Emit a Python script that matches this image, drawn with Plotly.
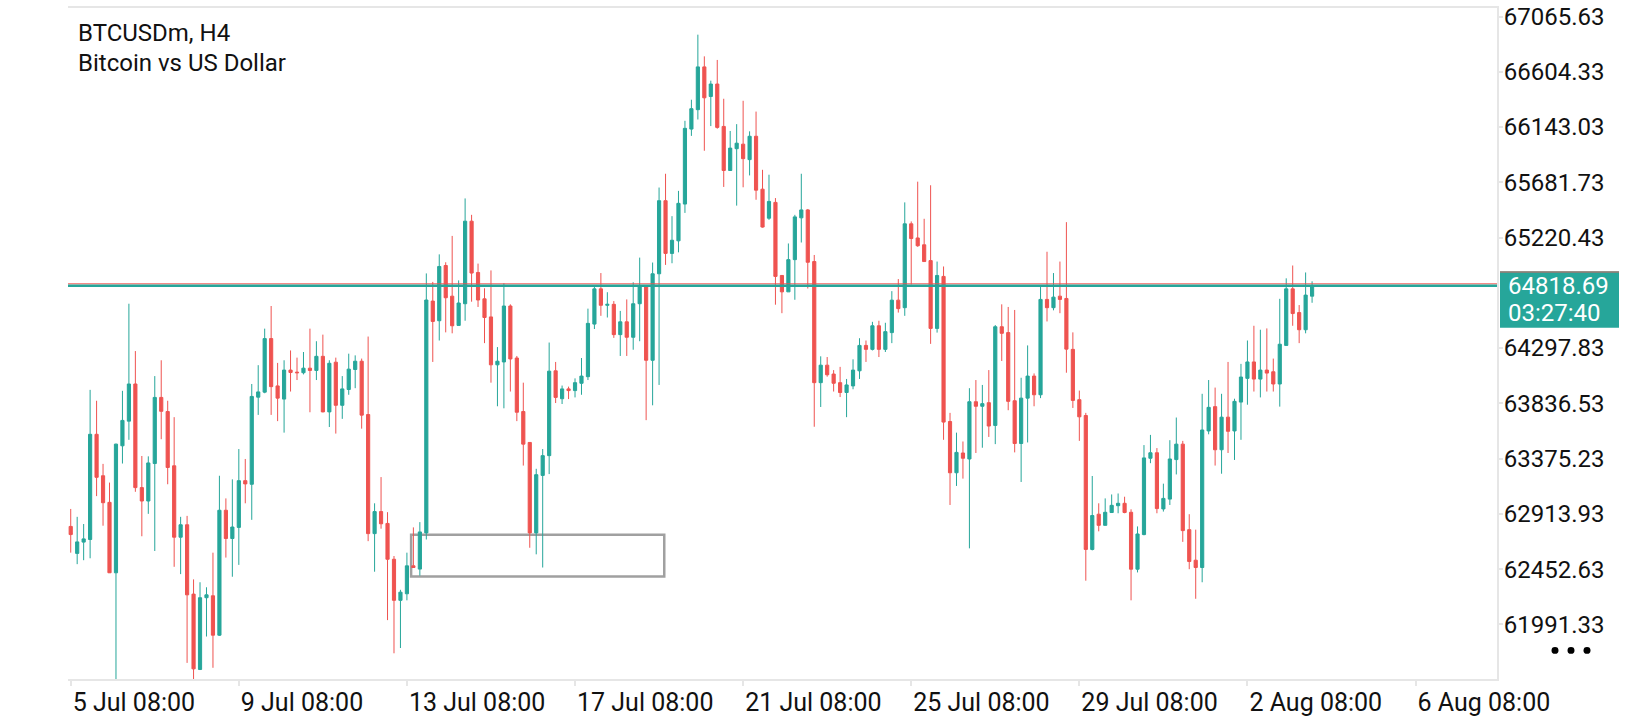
import plotly.graph_objects as go

# BTCUSDm H4 candles (oldest first)
opens = [
    62809, 62584, 62678, 62700, 63578, 63232, 63010, 62422, 63482, 63688,
    63998, 63133, 63021, 63334, 63886, 63768, 63315, 62719, 62823, 62244,
    61615, 62214, 62230, 61901, 62944, 62708, 62801, 63191, 63161, 63888,
    63930, 64377, 63982, 63872, 64114, 64097, 64092, 64130, 64111, 64229,
    63765, 64180, 63820, 63952, 64119, 64188, 63743, 62749, 62933, 62834,
    62535, 62192, 62247, 62480, 62453, 62755, 64690, 64526, 64987, 64731,
    64487, 64668, 65357, 64929, 64709, 64558, 64158, 64182, 64649, 64215,
    63768, 63510, 62755, 63235, 63400, 64108, 63875, 63957, 63943, 64004,
    64059, 64498, 64792, 64655, 64663, 64410, 64517, 64388, 64668, 64814,
    64196, 64918, 65528, 65088, 65193, 65500, 66126, 66288, 66645, 66398,
    66502, 66148, 65780, 65962, 66000, 65871, 66066, 65624, 65382, 65514,
    64904, 64767, 65036, 65385, 65451, 65020, 64009, 64155, 64081, 64009,
    63927, 63982, 64108, 64320, 64287, 64484, 64287, 64427, 64698, 64635,
    65335, 65217, 65160, 65028, 64462, 64896, 63685, 63257, 63422, 63372,
    63850, 63812, 63842, 63652, 64476, 64427, 63858, 63501, 63880, 64064,
    63908, 64704, 64635, 64731, 64712, 64287, 63867, 63735, 62617, 62911,
    62818, 62925, 62982, 63002, 62927, 62452, 62741, 63378, 63424, 62955,
    63037, 63367, 63496, 62782, 62527, 62466, 63606, 63809, 63449, 63721,
    63606, 63847, 64045, 64182, 64039, 64114, 64100, 63998, 64320, 64792,
    64594, 64451, 64731,
]
highs = [
    62955, 62889, 62829, 63949, 63858, 63331, 63175, 63500, 63941, 64668,
    64273, 63397, 63394, 64064, 64196, 63858, 63721, 62889, 62897, 62367,
    62343, 62301, 62590, 63232, 63043, 63202, 63455, 63372, 63998, 64155,
    64460, 64649, 64174, 64196, 64278, 64218, 64265, 64460, 64355, 64410,
    64196, 64218, 64064, 64251, 64237, 64210, 64394, 63002, 63221, 62928,
    62562, 62280, 62590, 62801, 62845, 64921, 64850, 65080, 65014, 65234,
    64863, 65547, 65410, 65003, 64797, 64946, 64306, 64839, 64663, 64232,
    64009, 63510, 63290, 63455, 64344, 64182, 63985, 63976, 64045, 64215,
    64627, 64808, 64924, 64764, 64690, 64608, 64704, 64847, 65053, 64814,
    65012, 65638, 65753, 65399, 65610, 66195, 66371, 66914, 66733, 66530,
    66703, 66379, 66110, 66167, 66362, 66107, 66272, 65786, 65745, 65550,
    64904, 65171, 65410, 65753, 65459, 65075, 64229, 64223, 64114, 64141,
    64040, 64204, 64380, 64361, 64517, 64526, 64509, 64773, 64874, 65514,
    65355, 65687, 65377, 65657, 65020, 64979, 63757, 63592, 63518, 63963,
    64031, 63990, 64114, 64490, 64663, 64641, 64616, 64050, 64320, 64086,
    64814, 65102, 64924, 65020, 65349, 64429, 63943, 63757, 63230, 63002,
    63043, 63076, 63084, 63057, 62952, 62809, 63488, 63573, 63463, 63166,
    63529, 63718, 63523, 62911, 62782, 63916, 64031, 63968, 63916, 64182,
    63875, 64166, 64361, 64484, 64451, 64462, 64210, 64709, 64880, 64987,
    64657, 64929, 64855,
]
lows = [
    62590, 62494, 62527, 62543, 63062, 62815, 62420, 61520, 63334, 63532,
    63098, 62727, 62914, 62604, 63537, 63161, 62472, 62411, 61670, 61530,
    61610, 61890, 61629, 61895, 62549, 62389, 62488, 63002, 62864, 63740,
    63921, 63740, 63688, 63592, 63935, 64031, 64078, 63762, 64031, 63762,
    63639, 63584, 63707, 63908, 63963, 63625, 62686, 62431, 62790, 62027,
    61750, 61794, 62192, 62466, 62398, 62700, 64182, 64361, 64429, 64421,
    64487, 64526, 64685, 64641, 64339, 64009, 63812, 63795, 63935, 63688,
    63317, 62631, 62576, 62466, 63246, 63839, 63831, 63872, 63886, 63908,
    64031, 64457, 64567, 64553, 64383, 64232, 64232, 64284, 64355, 63696,
    63820, 63990, 64992, 65006, 65097, 65426, 66069, 66206, 65945, 66151,
    66129, 65643, 65780, 65487, 65640, 65739, 65536, 65303, 65368, 64660,
    64589, 64767, 64701, 65179, 64795, 63641, 63806, 64059, 63935, 63889,
    63721, 63954, 64040, 64182, 64278, 64223, 64265, 64339, 64594, 64567,
    64828, 65143, 65020, 64333, 64427, 63532, 62988, 63147, 63208, 62626,
    63422, 63466, 63556, 63496, 64190, 63779, 63427, 63180, 63510, 63812,
    63880, 64520, 64613, 64589, 64092, 63798, 63523, 62356, 62609, 62768,
    62818, 62925, 62919, 62919, 62192, 62425, 62735, 63337, 62919, 62933,
    62988, 63243, 62680, 62452, 62205, 62343, 63578, 63317, 63249, 63422,
    63364, 63532, 63825, 63935, 63886, 63935, 63935, 63809, 64320, 64484,
    64339, 64421, 64676,
]
closes = [
    62741, 62680, 62705, 63578, 63219, 63007, 62422, 63496, 63694, 63998,
    63133, 63021, 63339, 63886, 63770, 63301, 62719, 62823, 62238, 61620,
    62214, 62238, 61901, 62944, 62708, 62804, 63191, 63164, 63894, 63932,
    64377, 63976, 63880, 64114, 64094, 64092, 64130, 64111, 64229, 63765,
    64171, 63820, 63957, 64122, 64188, 63738, 62749, 62933, 62831, 62535,
    62192, 62260, 62480, 62466, 62763, 64699, 64520, 64979, 64718, 64484,
    64674, 65357, 64924, 64699, 64553, 64158, 64188, 64649, 64207, 63762,
    63496, 62755, 63241, 63400, 64105, 63886, 63957, 63943, 64009, 64064,
    64504, 64792, 64655, 64663, 64410, 64517, 64388, 64668, 64819, 64196,
    64918, 65528, 65088, 65198, 65506, 66132, 66296, 66645, 66387, 66502,
    66140, 65780, 65967, 66008, 65879, 66066, 65616, 65308, 65522, 64896,
    64767, 65036, 65393, 65451, 65014, 64009, 64155, 64075, 64004, 63927,
    63990, 64114, 64320, 64287, 64484, 64287, 64435, 64698, 64627, 65335,
    65212, 65152, 65020, 64462, 64904, 63680, 63257, 63427, 63378, 63850,
    63812, 63834, 63647, 64476, 64421, 63853, 63501, 63880, 64064, 63908,
    64704, 64635, 64723, 64704, 64289, 63861, 63724, 62617, 62900, 62818,
    62927, 62985, 63002, 62925, 62452, 62746, 63381, 63424, 62958, 63043,
    63372, 63496, 62774, 62516, 62466, 63614, 63803, 63449, 63721, 63603,
    63853, 64056, 64182, 64039, 64114, 64089, 63998, 64330, 64792, 64586,
    64451, 64740, 64818.69,
]
bars = list(range(len(opens)))

# axis labels
date_ticks = [0, 26, 52, 78, 104, 130, 156, 182, 208]
date_labels = ["5 Jul 08:00", "9 Jul 08:00", "13 Jul 08:00", "17 Jul 08:00",
               "21 Jul 08:00", "25 Jul 08:00", "29 Jul 08:00", "2 Aug 08:00",
               "6 Aug 08:00"]
price_ticks = [67065.63, 66604.33, 66143.03, 65681.73, 65220.43,
               64297.83, 63836.53, 63375.23, 62913.93, 62452.63, 61991.33]

bid = 64818.69
ask = 64834.0
countdown = "03:27:40"

# the grey box drawn on the chart (bar positions, prices)
zone_x = [52.65, 91.8]
zone_y = [62390, 62740]

GREEN = "#26a69a"
RED = "#ef5350"
AXIS = "#e6e6e6"
INK = "#111111"
FONT = "Roboto"

W, H = 1640, 720
L_M, R_M, T_M, B_M = 68, 143, 3, 37
pw, ph = W - L_M - R_M, H - T_M - B_M


def px(x):
    return (x - L_M) / pw


def py(y):
    return (H - B_M - y) / ph


fig = go.Figure(go.Candlestick(
    x=bars, open=opens, high=highs, low=lows, close=closes,
    increasing=dict(line=dict(color=GREEN, width=1), fillcolor=GREEN),
    decreasing=dict(line=dict(color=RED, width=1), fillcolor=RED),
    whiskerwidth=0, hoverinfo="skip", showlegend=False,
))

shapes = [
    dict(type="rect", xref="x", yref="y", x0=zone_x[0], x1=zone_x[1],
         y0=zone_y[0], y1=zone_y[1], line=dict(color="#a0a0a0", width=2.5),
         layer="below"),
    dict(type="line", xref="paper", yref="y", x0=0, x1=1, y0=ask, y1=ask,
         line=dict(color=RED, width=1), layer="above"),
    dict(type="line", xref="paper", yref="y", x0=0, x1=1, y0=bid, y1=bid,
         line=dict(color=GREEN, width=2.5), layer="above"),
    # price tag on the right axis
    dict(type="rect", xref="paper", yref="paper", x0=px(1500), x1=px(1619),
         y0=py(327), y1=py(270), fillcolor=GREEN, line=dict(width=0)),
    dict(type="line", xref="paper", yref="paper", x0=px(1500), x1=px(1619),
         y0=py(270.5), y1=py(270.5), line=dict(color="#9c7a72", width=1.5)),
]
# menu dots, bottom right
for cx in (1555, 1571, 1587):
    shapes.append(dict(type="circle", xref="paper", yref="paper",
                       x0=px(cx - 3.5), x1=px(cx + 3.5), y0=py(657.5), y1=py(650.5),
                       fillcolor="black", line=dict(width=0)))

annotations = [
    dict(text="BTCUSDm, H4", x=px(76), y=py(28), xref="paper", yref="paper",
         xanchor="left", yanchor="middle", showarrow=False,
         font=dict(family=FONT, size=24, color=INK)),
    dict(text="Bitcoin vs US Dollar", x=px(76), y=py(59), xref="paper", yref="paper",
         xanchor="left", yanchor="middle", showarrow=False,
         font=dict(family=FONT, size=24, color=INK)),
    dict(text=f"{bid:.2f}", x=px(1506), y=py(285), xref="paper", yref="paper",
         xanchor="left", yanchor="middle", showarrow=False,
         font=dict(family=FONT, size=24, color="white")),
    dict(text=countdown, x=px(1506), y=py(312), xref="paper", yref="paper",
         xanchor="left", yanchor="middle", showarrow=False,
         font=dict(family=FONT, size=24, color="white")),
]

fig.update_layout(
    width=W, height=H, autosize=False,
    margin=dict(l=L_M, r=R_M, t=T_M, b=B_M, pad=0),
    paper_bgcolor="white", plot_bgcolor="white",
    shapes=shapes, annotations=annotations,
    font=dict(family=FONT, size=24, color=INK),
)
fig.update_xaxes(
    range=[-0.42, 220.6], rangeslider=dict(visible=False),
    showgrid=False, zeroline=False,
    showline=True, mirror=True, linecolor=AXIS, linewidth=2,
    ticks="outside", ticklen=5, tickwidth=2, tickcolor=AXIS,
    tickmode="array", tickvals=date_ticks, ticktext=date_labels,
    ticklabelposition="outside right", ticklabeloverflow="allow",
    tickfont=dict(family=FONT, size=25, color=INK),
)
fig.update_yaxes(
    side="right", range=[61535.4, 67136.6],
    showgrid=False, zeroline=False,
    showline=True, linecolor=AXIS, linewidth=2,
    ticks="outside", ticklen=4, tickwidth=1.5, tickcolor=AXIS,
    tickmode="array", tickvals=price_ticks,
    ticktext=[f"{v:.2f}" for v in price_ticks],
    ticklabelstandoff=-4, ticklabeloverflow="allow",
    tickfont=dict(family=FONT, size=24, color=INK),
)

# page body has an 8px default margin; drop it so the chart fills the window
fig.write_html("out.html", config={"displayModeBar": False},
               post_script="document.body.style.margin='0';")
